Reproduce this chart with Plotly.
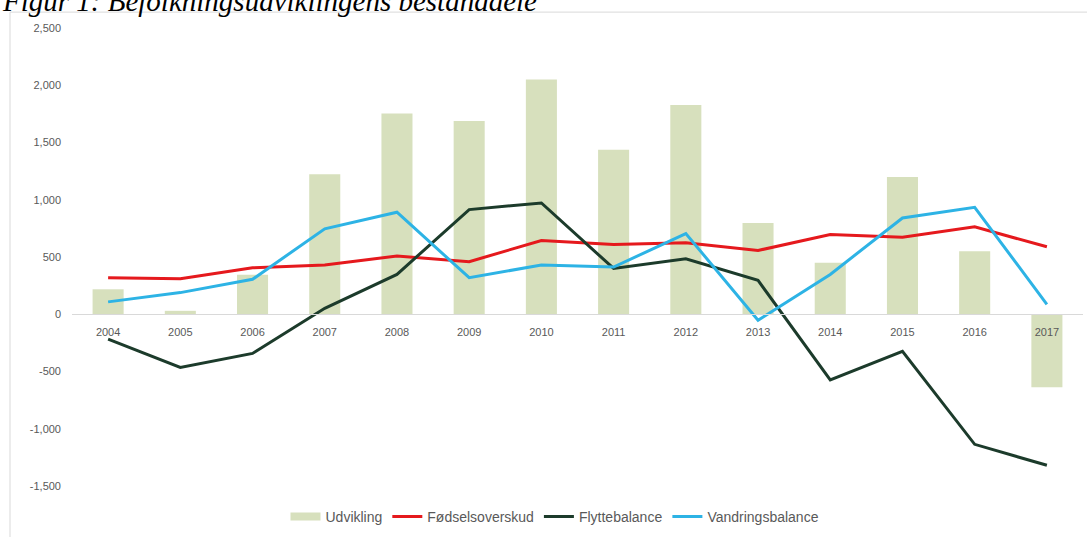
import plotly.graph_objects as go

years = ['2004', '2005', '2006', '2007', '2008', '2009', '2010',
         '2011', '2012', '2013', '2014', '2015', '2016', '2017']

udvikling = [218, 30, 345, 1222, 1754, 1688, 2051, 1436, 1827, 798, 450, 1198, 551, -638]
foedselsoverskud = [319, 310, 406, 430, 508, 459, 644, 609, 624, 557, 696, 673, 763, 589]
flyttebalance = [-217, -464, -342, 52, 348, 914, 972, 400, 485, 296, -574, -324, -1136, -1319]
vandringsbalance = [108, 189, 305, 746, 891, 319, 430, 412, 705, -52, 348, 841, 934, 87]

y_ticks = [2500, 2000, 1500, 1000, 500, 0, -500, -1000, -1500]
y_ticktext = ['2,500', '2,000', '1,500', '1,000', '500', '0', '-500', '-1,000', '-1,500']
y_range = [-1500, 2500]

W, H = 1087, 537
ML, MR, MT, MB = 72, 4, 28, 48
pw, ph = W - ML - MR, H - MT - MB


# pixel -> paper helpers for the decorations
def px(x):
    return (x - ML) / pw


def py(y):
    return (H - MB - y) / ph


grey = '#595959'
bar_green = '#d7e0bd'
fnt = dict(family='Liberation Sans, Arial, sans-serif', size=11, color=grey)

fig = go.Figure()

fig.add_trace(go.Bar(
    x=years, y=udvikling, name='Udvikling', showlegend=False,
    marker=dict(color=bar_green, line=dict(width=0))
))
# legend-only entry so the swatch is a wide flat block like the original
fig.add_trace(go.Scatter(
    x=[None], y=[None], name='Udvikling', mode='lines',
    line=dict(color=bar_green, width=8)
))
fig.add_trace(go.Scatter(
    x=years, y=foedselsoverskud, name='Fødselsoverskud', mode='lines',
    line=dict(color='#e5191d', width=3)
))
fig.add_trace(go.Scatter(
    x=years, y=flyttebalance, name='Flyttebalance', mode='lines',
    line=dict(color='#1c3b2b', width=3)
))
fig.add_trace(go.Scatter(
    x=years, y=vandringsbalance, name='Vandringsbalance', mode='lines',
    line=dict(color='#2db3e5', width=3)
))

zero_pos = (0 - y_range[0]) / (y_range[1] - y_range[0])

fig.update_layout(
    width=W, height=H,
    margin=dict(l=ML, r=MR, t=MT, b=MB),
    plot_bgcolor='white', paper_bgcolor='white',
    font=fnt,
    bargap=0.57,
    showlegend=True,
    legend=dict(orientation='h', x=px(555), xanchor='center', y=py(520), yanchor='middle',
                font=dict(family='Liberation Sans, Arial, sans-serif', size=14, color=grey),
                itemwidth=30, tracegroupgap=0, bgcolor='rgba(0,0,0,0)'),
    xaxis=dict(type='category', range=[-0.5, len(years) - 0.5],
               anchor='free', position=zero_pos,
               showline=True, linecolor='#d9d9d9', linewidth=1,
               showgrid=False, zeroline=False, ticks='', ticklabelstandoff=8,
               tickfont=fnt),
    yaxis=dict(range=y_range, tickvals=y_ticks, ticktext=y_ticktext,
               showgrid=False, zeroline=False, showline=False, ticks='',
               ticklabelstandoff=10, tickfont=fnt),
    shapes=[dict(type='rect', xref='paper', yref='paper',
                 x0=px(10), x1=px(W + 5), y0=py(H + 5), y1=py(12),
                 line=dict(color='#d9d9d9', width=1), layer='below')],
    annotations=[dict(text='<i>Figur 1: Befolkningsudviklingens bestanddele</i>',
                      xref='paper', yref='paper', x=px(0), y=py(19),
                      xanchor='left', yanchor='bottom', showarrow=False,
                      font=dict(family='Liberation Serif, Times New Roman, serif',
                                size=29, color='black'))]
)

fig.write_html('out.html', config={'displayModeBar': False},
               post_script="document.body.style.margin='0';")
